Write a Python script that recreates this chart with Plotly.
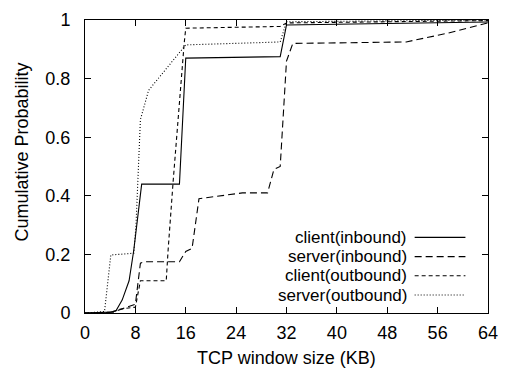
import plotly.graph_objects as go

# ---- data ----
client_in_x = [0, 4, 4.9, 5.9, 7, 7.75, 9, 15, 16, 31, 32, 48, 64]
client_in_y = [0, 0.003, 0.007, 0.044, 0.11, 0.215, 0.44, 0.44, 0.87, 0.875, 0.983, 0.988, 0.993]

server_in_x = [0, 4.5, 6, 8, 8.8, 9.5, 15, 16, 17, 18.1, 25, 29, 30, 31, 32, 33, 51, 57.6, 64]
server_in_y = [0, 0.003, 0.015, 0.03, 0.17, 0.175, 0.175, 0.21, 0.22, 0.39, 0.41, 0.41, 0.49, 0.5, 0.86, 0.92, 0.925, 0.955, 0.99]

client_out_x = [0, 4, 5.5, 8, 8.8, 12.9, 13.2, 14, 15.75, 16, 31, 32, 64]
client_out_y = [0, 0.002, 0.013, 0.02, 0.11, 0.11, 0.215, 0.45, 0.92, 0.972, 0.978, 0.99, 0.998]

server_out_x = [0, 0.8, 3.1, 4.1, 7.75, 8.1, 8.5, 8.8, 10.1, 15.5, 16, 31, 32, 64]
server_out_y = [0, 0.001, 0.005, 0.198, 0.204, 0.3, 0.52, 0.66, 0.76, 0.90, 0.915, 0.925, 0.994, 1.0]

series_names = ["client(inbound)", "server(inbound)", "client(outbound)", "server(outbound)"]
dashes = ["solid", "7px,4px", "4px,3px", "1px,2px"]

x_ticks = [0, 8, 16, 24, 32, 40, 48, 56, 64]
y_ticks = [0, 0.2, 0.4, 0.6, 0.8, 1]

FONT = "Liberation Sans, Arial, sans-serif"
FS = 18
LEG_FS = 17

fig = go.Figure()
data = [(client_in_x, client_in_y), (server_in_x, server_in_y),
        (client_out_x, client_out_y), (server_out_x, server_out_y)]
for (xs, ys), name, d in zip(data, series_names, dashes):
    fig.add_trace(go.Scatter(x=xs, y=ys, mode="lines", name=name,
                             line=dict(color="black", width=1.1, dash=d),
                             showlegend=False))

# manual gnuplot-style legend (text right, sample line on the right)
leg_y = [0.258, 0.1925, 0.127, 0.0614]
for name, d, yy in zip(series_names, dashes, leg_y):
    fig.add_annotation(x=0.802, y=yy, xref="paper", yref="paper", text=name,
                       showarrow=False, xanchor="right", yanchor="middle",
                       height=17, borderpad=0,
                       font=dict(family=FONT, size=LEG_FS, color="black"))
    fig.add_shape(type="line", xref="paper", yref="paper",
                  x0=0.818, x1=0.944, y0=yy, y1=yy,
                  line=dict(color="black", width=1.1, dash=d))

fig.add_annotation(x=0.5, y=-0.154, xref="paper", yref="paper",
                   text="TCP window size (KB)", showarrow=False,
                   yanchor="middle", xanchor="center",
                   font=dict(family=FONT, size=FS, color="black"))
fig.add_annotation(x=-0.157, y=0.55, xref="paper", yref="paper",
                   text="Cumulative Probability", showarrow=False, textangle=-90,
                   yanchor="middle", xanchor="center",
                   font=dict(family=FONT, size=FS, color="black"))

axis_common = dict(showline=True, linecolor="black", linewidth=1, mirror="ticks",
                   ticks="inside", ticklen=6, tickcolor="black", showgrid=False,
                   zeroline=False, tickfont=dict(family=FONT, size=FS, color="black"))
fig.update_xaxes(range=[0, 64], tickvals=x_ticks, ticklabelstandoff=3,
                 ticklabeloverflow="allow", **axis_common)
fig.update_yaxes(range=[0, 1], tickvals=y_ticks, ticklabelstandoff=10, **axis_common)

fig.update_layout(width=508, height=369,
                  margin=dict(l=85, r=10, t=20, b=56),
                  paper_bgcolor="white", plot_bgcolor="white",
                  font=dict(family=FONT, color="black"))

fig.write_html("out.html", config={"displayModeBar": False},
               post_script="document.body.style.margin='0';document.body.style.overflow='hidden';")
